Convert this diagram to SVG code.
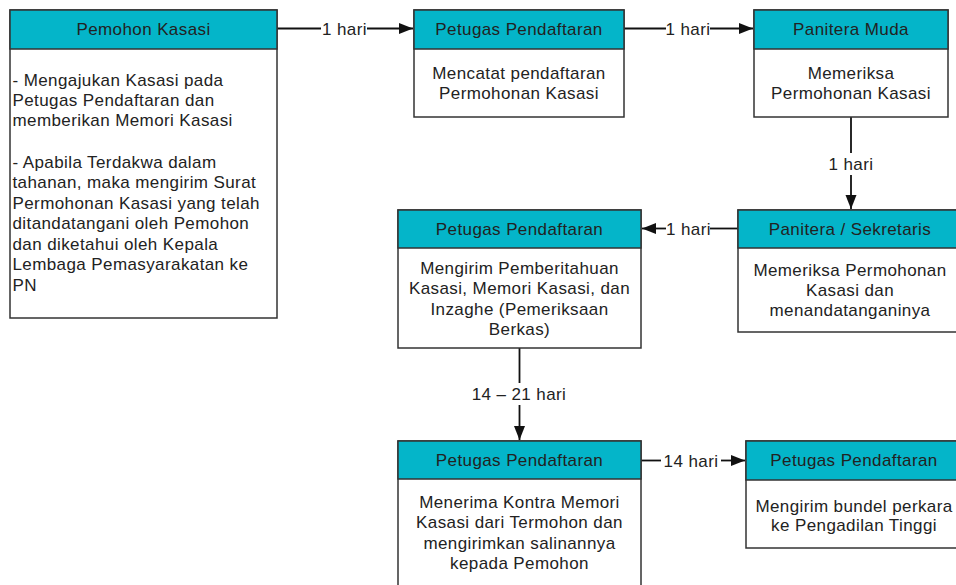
<svg xmlns="http://www.w3.org/2000/svg" width="956" height="585" viewBox="0 0 956 585">
<style>
.box{fill:#fff;stroke:#333;stroke-width:1.5}
.hd{fill:#04b5c9;stroke:#333;stroke-width:1.5}
text{font-family:"Liberation Sans",Arial,sans-serif;font-size:17px;letter-spacing:0.4px;fill:#222}
.c{text-anchor:middle}
.ln{fill:none;stroke:#111;stroke-width:1.8}
</style>
<defs>
<marker id="ah" markerUnits="userSpaceOnUse" markerWidth="16" markerHeight="12" refX="14" refY="6" orient="auto">
<path d="M0,0.5 L14,6 L0,11.5 Z" fill="#111"/>
</marker>
</defs>
<rect width="956" height="585" fill="#fff"/>

<g id="connectors">
<path class="ln" d="M277,28.5 H321"/>
<path class="ln" d="M367,28.5 H413" marker-end="url(#ah)"/>
<text class="c" x="344.5" y="34.5">1 hari</text>

<path class="ln" d="M624,28.5 H666"/>
<path class="ln" d="M710,28.5 H753" marker-end="url(#ah)"/>
<text class="c" x="688" y="34.5">1 hari</text>

<path class="ln" d="M851,117 V153"/>
<path class="ln" d="M851,175 V209" marker-end="url(#ah)"/>
<text class="c" x="851" y="169.5">1 hari</text>

<path class="ln" d="M738,228.5 H710"/>
<path class="ln" d="M666,228.5 H642" marker-end="url(#ah)"/>
<text class="c" x="688.5" y="234.5">1 hari</text>

<path class="ln" d="M519.5,348 V383"/>
<path class="ln" d="M519.5,405 V440" marker-end="url(#ah)"/>
<text class="c" x="519" y="399.5">14 – 21 hari</text>

<path class="ln" d="M641,460.5 H661"/>
<path class="ln" d="M721,460.5 H745" marker-end="url(#ah)"/>
<text class="c" x="691" y="466.5">14 hari</text>
</g>

<g id="n1">
<rect class="box" x="10" y="10" width="267" height="308"/>
<rect class="hd" x="10" y="10" width="267" height="39"/>
<text class="c" x="143.5" y="34.5">Pemohon Kasasi</text>
<text x="12.5" y="85.5">- Mengajukan Kasasi pada</text>
<text x="12.5" y="106">Petugas Pendaftaran dan</text>
<text x="12.5" y="126">memberikan Memori Kasasi</text>
<text x="12.5" y="167.5">- Apabila Terdakwa dalam</text>
<text x="12.5" y="188">tahanan, maka mengirim Surat</text>
<text x="12.5" y="208.5">Permohonan Kasasi yang telah</text>
<text x="12.5" y="229">ditandatangani oleh Pemohon</text>
<text x="12.5" y="249.5">dan diketahui oleh Kepala</text>
<text x="12.5" y="270">Lembaga Pemasyarakatan ke</text>
<text x="12.5" y="290.5">PN</text>
</g>

<g id="n2">
<rect class="box" x="414" y="10" width="210" height="107"/>
<rect class="hd" x="414" y="10" width="210" height="39"/>
<text class="c" x="519" y="34.5">Petugas Pendaftaran</text>
<text class="c" x="519" y="79">Mencatat pendaftaran</text>
<text class="c" x="519" y="99">Permohonan Kasasi</text>
</g>

<g id="n3">
<rect class="box" x="754" y="10" width="194" height="107"/>
<rect class="hd" x="754" y="10" width="194" height="39"/>
<text class="c" x="851" y="34.5">Panitera Muda</text>
<text class="c" x="851" y="79">Memeriksa</text>
<text class="c" x="851" y="99">Permohonan Kasasi</text>
</g>

<g id="n4">
<rect class="box" x="738" y="210" width="224" height="122"/>
<rect class="hd" x="738" y="210" width="224" height="38"/>
<text class="c" x="850" y="234.5">Panitera / Sekretaris</text>
<text class="c" x="850" y="276">Memeriksa Permohonan</text>
<text class="c" x="850" y="296">Kasasi dan</text>
<text class="c" x="850" y="316">menandatanganinya</text>
</g>

<g id="n5">
<rect class="box" x="398" y="210" width="243" height="138"/>
<rect class="hd" x="398" y="210" width="243" height="38"/>
<text class="c" x="519.5" y="234.5">Petugas Pendaftaran</text>
<text class="c" x="519.5" y="273.5">Mengirim Pemberitahuan</text>
<text class="c" x="519.5" y="294">Kasasi, Memori Kasasi, dan</text>
<text class="c" x="519.5" y="314.5">Inzaghe (Pemeriksaan</text>
<text class="c" x="519.5" y="335">Berkas)</text>
</g>

<g id="n6">
<rect class="box" x="398" y="441" width="243" height="160"/>
<rect class="hd" x="398" y="441" width="243" height="38"/>
<text class="c" x="519.5" y="465.5">Petugas Pendaftaran</text>
<text class="c" x="519.5" y="508">Menerima Kontra Memori</text>
<text class="c" x="519.5" y="528">Kasasi dari Termohon dan</text>
<text class="c" x="519.5" y="548.5">mengirimkan salinannya</text>
<text class="c" x="519.5" y="569">kepada Pemohon</text>
</g>

<g id="n7">
<rect class="box" x="746" y="441" width="216" height="107"/>
<rect class="hd" x="746" y="441" width="216" height="39"/>
<text class="c" x="854" y="466">Petugas Pendaftaran</text>
<text class="c" x="854" y="512">Mengirim bundel perkara</text>
<text class="c" x="854" y="531">ke Pengadilan Tinggi</text>
</g>
</svg>
